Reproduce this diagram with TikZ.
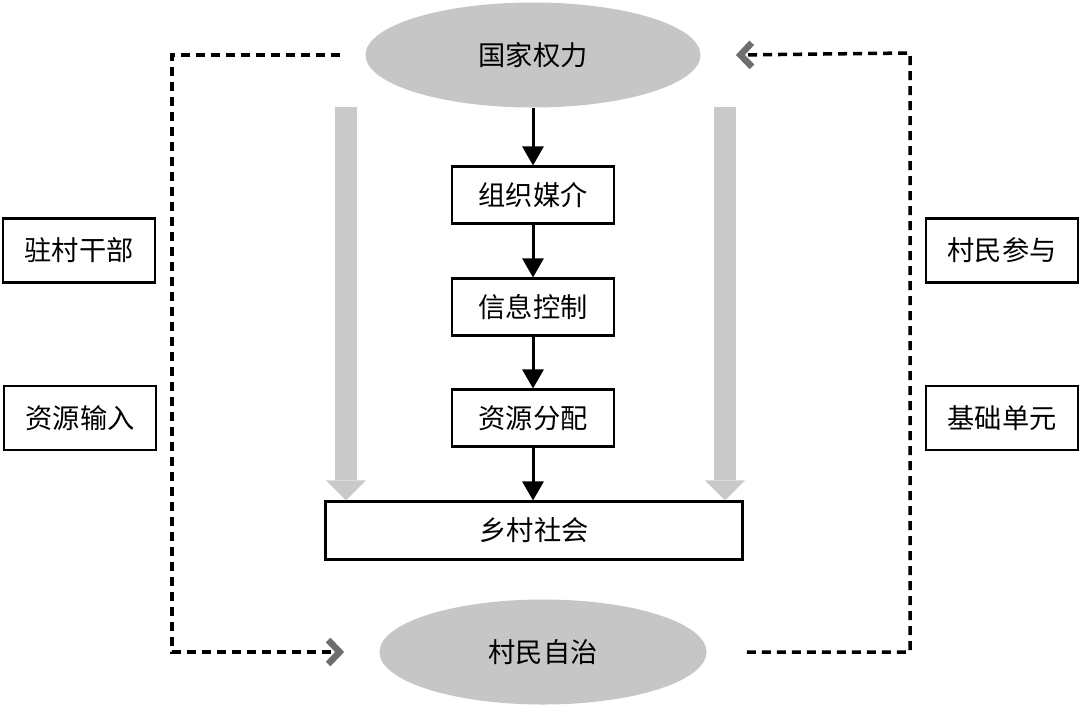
\documentclass[tikz,border=0pt]{standalone}
\usepackage{fontspec}
\setmainfont{Noto Sans CJK SC}
\usetikzlibrary{arrows.meta, positioning, shapes.geometric}
\definecolor{ellc}{HTML}{C6C6C6}
\definecolor{bigc}{HTML}{C9C9C9}
\definecolor{chvc}{HTML}{6E6E6E}

\begin{document}
\begin{tikzpicture}[>=Stealth, font=\fontsize{15.5}{18}\selectfont, x=1cm, y=1cm,
      ell/.style={ellipse, fill=ellc, inner sep=0pt,
                  minimum width=6.7cm, minimum height=2.1cm},
      box/.style={draw, line width=1.2pt, minimum width=3.24cm, minimum height=1.14cm},
      side/.style={draw, line width=1.2pt, minimum width=3.04cm, minimum height=1.28cm},
      ar/.style={-{Triangle[width=4.2mm, length=3.8mm]}, line width=1.7pt},
      big/.style={-{Triangle[width=8mm, length=4mm, line width=0pt]}, draw=bigc,
                  line width=4.4mm},
      dashln/.style={line width=2pt, dash pattern=on 0.18cm off 0.12cm,
                     -{Straight Barb[color=chvc, width=4.8mm, length=2.3mm, line width=1.3mm]}}]
    \useasboundingbox (0,0) rectangle (21.6,14.1);
    % centre column
    \node[ell] (state) at (10.66,13.0) {国家权力};
    \node[box] (org) at (10.66,10.2) {组织媒介};
    \node[box] (info) at (10.66,7.96) {信息控制};
    \node[box] (res) at (10.66,5.74) {资源分配};
    \node[box, minimum width=8.34cm, minimum height=1.16cm] (soc) at (10.68,3.49) {乡村社会};
    \node[ell, minimum width=6.54cm] (auto) at (10.86,1.06) {村民自治};
    % side boxes
    \node[side] (cadre) at (1.58,9.09) {驻村干部};
    \node[side] (input) at (1.6,5.74) {资源输入};
    \node[side] (part) at (20.04,9.09) {村民参与};
    \node[side] (unit) at (20.04,5.74) {基础单元};
    \draw[ar] (state.south) -- (org.north);
    \draw[ar] (org) -- (info);
    \draw[ar] (info) -- (res);
    \draw[ar] (res.south) -- (res.south |- soc.north);
    \coordinate (gl) at (6.92,11.96);
    \coordinate (gr) at (14.5,11.96);
    \draw[big] (gl) -- (gl |- soc.north);
    \draw[big] (gr) -- (gr |- soc.north);
    \draw[dashln] ([xshift=-0.5cm]state.west) -| (3.44,1.06) -- ([xshift=-0.7cm]auto.west);
    \draw[dashln] ([xshift=0.8cm]auto.east) -| (18.2,13.04) -- ([xshift=0.7cm]state.east);
  \end{tikzpicture}
\end{document}
